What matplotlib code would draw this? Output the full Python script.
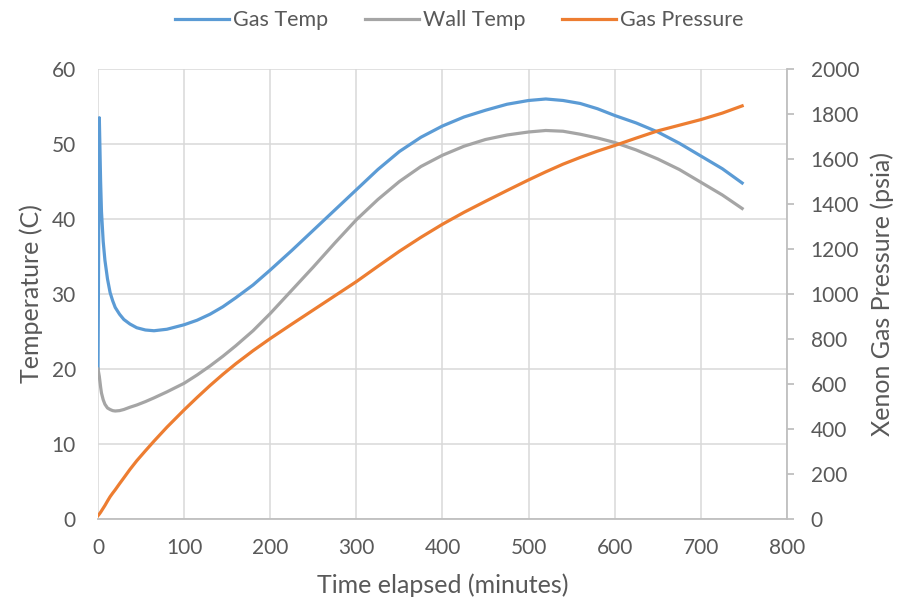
import matplotlib
matplotlib.use("Agg")
import matplotlib.pyplot as plt

# time samples (minutes) shared by all three series
time_min = [0, 1.5, 3, 4, 6, 8, 11, 14, 17, 20, 25, 30, 37, 45, 55, 65, 80,
            100, 115, 130, 145, 160, 180, 200, 225, 250, 275, 300, 325, 350,
            375, 400, 425, 450, 475, 500, 520, 540, 560, 580, 600, 625, 650,
            675, 700, 725, 748]

gas_temp = [20.0, 53.5, 45.0, 41.0, 37.0, 34.5, 32.0, 30.2, 29.1, 28.2, 27.3,
            26.6, 26.0, 25.5, 25.2, 25.1, 25.3, 25.9, 26.5, 27.3, 28.3, 29.5,
            31.2, 33.2, 35.8, 38.5, 41.2, 43.9, 46.6, 49.0, 50.9, 52.4, 53.6,
            54.5, 55.3, 55.8, 56.0, 55.8, 55.4, 54.7, 53.8, 52.8, 51.6, 50.1,
            48.4, 46.7, 44.8]

wall_temp = [20.0, 19.0, 17.6, 16.8, 15.9, 15.3, 14.8, 14.6, 14.45, 14.4,
             14.45, 14.6, 14.9, 15.2, 15.65, 16.15, 16.95, 18.1, 19.2, 20.4,
             21.7, 23.1, 25.1, 27.4, 30.5, 33.6, 36.8, 39.9, 42.6, 45.0, 47.0,
             48.5, 49.7, 50.6, 51.2, 51.6, 51.8, 51.7, 51.3, 50.8, 50.2, 49.2,
             48.0, 46.6, 44.9, 43.2, 41.4]

gas_pressure = [15, 22, 30, 36, 48, 60, 80, 99, 115, 130, 157, 183, 220, 259,
                303, 346, 408, 485, 540, 593, 643, 690, 748, 802, 866, 929, 992,
                1055, 1123, 1190, 1252, 1310, 1363, 1412, 1460, 1507, 1543, 1577,
                1607, 1635, 1660, 1693, 1725, 1750, 1775, 1804, 1836]

x_ticks = [0, 100, 200, 300, 400, 500, 600, 700, 800]
temp_ticks = [0, 10, 20, 30, 40, 50, 60]
pressure_ticks = [0, 200, 400, 600, 800, 1000, 1200, 1400, 1600, 1800, 2000]

BLUE = "#5B9BD5"
GRAY = "#A5A5A5"
ORANGE = "#ED7D31"
TEXT = "#595959"
GRID = "#D9D9D9"
AXIS = "#BFBFBF"

plt.rcParams['font.family'] = ['Lato', 'DejaVu Sans']
plt.rcParams['font.size'] = 15

fig = plt.figure(figsize=(9.01, 6.03), dpi=100)
ax = fig.add_axes([0.1088, 0.1393, 0.7646, 0.7463])
ax2 = ax.twinx()

l1, = ax.plot(time_min, gas_temp, color=BLUE, lw=2.3, label="Gas Temp",
              solid_joinstyle='round')
l2, = ax.plot(time_min, wall_temp, color=GRAY, lw=2.3, label="Wall Temp",
              solid_joinstyle='round')
l3, = ax2.plot(time_min, gas_pressure, color=ORANGE, lw=2.3,
               label="Gas Pressure", solid_joinstyle='round')

ax.set_xlim(0, 800)
ax.set_ylim(0, 60)
ax2.set_ylim(0, 2000)
ax.set_xticks(x_ticks)
ax.set_yticks(temp_ticks)
ax2.set_yticks(pressure_ticks)

ax.grid(True, color=GRID, lw=1.1)
ax.set_axisbelow(True)

for a in (ax, ax2):
    for s in a.spines.values():
        s.set_visible(False)
ax.spines['bottom'].set_visible(True)
ax.spines['bottom'].set_color(AXIS)
ax.spines['bottom'].set_linewidth(1.3)
ax2.spines['right'].set_visible(True)
ax2.spines['right'].set_color(AXIS)
ax2.spines['right'].set_linewidth(1.3)

ax.tick_params(axis='x', length=0, pad=14, colors=TEXT)
ax.tick_params(axis='y', length=0, pad=16, colors=TEXT)
ax2.tick_params(axis='y', length=5, width=1.3, color=AXIS, labelcolor=TEXT, pad=12)

ax.set_xlabel("Time elapsed (minutes)", color=TEXT, fontsize=18, labelpad=11)
ax.set_ylabel("Temperature (C)", color=TEXT, fontsize=18, labelpad=6)
ax2.set_ylabel("Xenon Gas Pressure (psia)", color=TEXT, fontsize=18, labelpad=8)

leg = fig.legend(handles=[l1, l2, l3], loc='upper center', ncol=3,
                 bbox_to_anchor=(0.51, 1.015), frameon=False,
                 handlelength=2.5, handletextpad=0.2, columnspacing=1.7,
                 fontsize=15.5)
for txt in leg.get_texts():
    txt.set_color(TEXT)

fig.savefig("out.png", dpi=100)
